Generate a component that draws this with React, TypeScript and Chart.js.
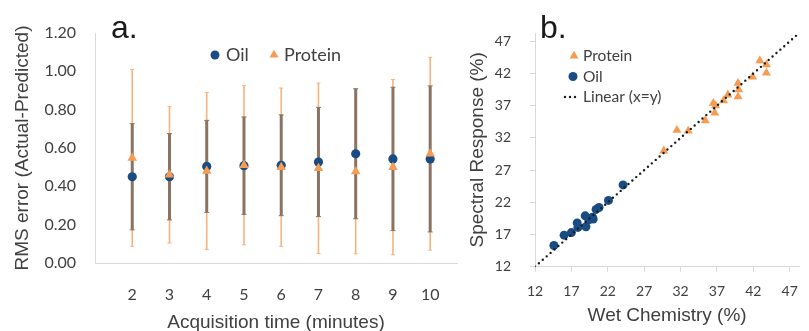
import React, { useEffect, useRef } from 'react';
import { Chart, registerables } from 'chart.js';

Chart.register(...registerables);

// ---- Panel a data ----
const minutes = [2, 3, 4, 5, 6, 7, 8, 9, 10];
const oilRms = [0.45, 0.45, 0.504, 0.508, 0.51, 0.527, 0.57, 0.543, 0.543];
const oilErr = [0.277, 0.225, 0.24, 0.254, 0.263, 0.285, 0.339, 0.374, 0.381];
const proteinRms = [0.548, 0.46, 0.48, 0.51, 0.5, 0.494, 0.478, 0.5, 0.57];
const proteinErr = [0.461, 0.356, 0.41, 0.415, 0.413, 0.445, 0.43, 0.457, 0.503];
const rmsTicks = [0, 0.2, 0.4, 0.6, 0.8, 1.0, 1.2];

// ---- Panel b data ----
const oilWet = [14.6, 16.0, 17.0, 17.8, 17.9, 18.9, 19.0, 19.4, 19.9, 20.0, 20.4, 20.8, 22.1, 24.1];
const oilSpectral = [15.3, 16.9, 17.3, 18.8, 18.1, 19.9, 18.2, 19.3, 19.7, 19.4, 20.9, 21.2, 22.3, 24.7];
const proteinWet = [29.7, 31.5, 33.05, 35.4, 36.5, 36.8, 36.7, 37.9, 38.5, 39.9, 40.0, 39.9, 41.9, 42.9, 43.8, 43.8];
const proteinSpectral = [30.0, 33.2, 33.1, 34.7, 37.4, 37.0, 35.9, 37.8, 38.7, 40.5, 39.5, 38.4, 41.5, 44.0, 43.4, 42.1];
const percentTicks = [12, 17, 22, 27, 32, 37, 42, 47];
const identityEnds = [12, 48.3];

const OIL_BLUE = '#1a4c84';
const PROTEIN_ORANGE = '#f59b52';
const OIL_BAR = '#8b7363';
const PROTEIN_BAR = '#f7b37c';
const TEXT = '#404040';
const AXIS = '#d9d9d9';
const TICK_FONT = 'Lato, "Open Sans", sans-serif';
const TITLE_FONT = '"Liberation Sans", Arial, sans-serif';

function drawTriangle(ctx: CanvasRenderingContext2D, x: number, y: number, r: number) {
  ctx.beginPath();
  for (let k = 0; k < 3; k++) {
    const a = -Math.PI / 2 + (k * 2 * Math.PI) / 3;
    const px = x + r * Math.cos(a);
    const py = y + r * Math.sin(a);
    if (k === 0) ctx.moveTo(px, py);
    else ctx.lineTo(px, py);
  }
  ctx.closePath();
  ctx.fill();
}

function drawCircle(ctx: CanvasRenderingContext2D, x: number, y: number, r: number) {
  ctx.beginPath();
  ctx.arc(x, y, r, 0, Math.PI * 2);
  ctx.fill();
}

type LegendItem = { label: string; kind: 'circle' | 'triangle' | 'dots'; color: string; mx: number; tx: number; y: number };

function legendPlugin(items: LegendItem[], fontSize: number) {
  return {
    id: 'insideLegend',
    afterDraw(chart: any) {
      const ctx: CanvasRenderingContext2D = chart.ctx;
      ctx.save();
      ctx.font = `${fontSize}px ${TICK_FONT}`;
      ctx.textBaseline = 'middle';
      ctx.textAlign = 'left';
      items.forEach((it) => {
        ctx.fillStyle = it.color;
        ctx.strokeStyle = it.color;
        if (it.kind === 'circle') drawCircle(ctx, it.mx, it.y, 4.5);
        else if (it.kind === 'triangle') drawTriangle(ctx, it.mx, it.y, 5.2);
        else {
          ctx.lineWidth = 2.4;
          ctx.lineCap = 'round';
          ctx.setLineDash([0, 5]);
          ctx.beginPath();
          ctx.moveTo(it.mx - 7, it.y);
          ctx.lineTo(it.mx + 5, it.y);
          ctx.stroke();
          ctx.setLineDash([]);
        }
        ctx.fillStyle = TEXT;
        ctx.fillText(it.label, it.tx, it.y);
      });
      ctx.restore();
    },
  };
}

type BarSet = { xs: number[]; values: number[]; errs: number[]; color: string; width: number; cap: number };

function errorBarPlugin(sets: BarSet[]) {
  return {
    id: 'errorBars',
    beforeDatasetsDraw(chart: any) {
      const ctx: CanvasRenderingContext2D = chart.ctx;
      const xs = chart.scales.x;
      const ys = chart.scales.y;
      sets.forEach((s) => {
        ctx.save();
        ctx.strokeStyle = s.color;
        ctx.lineWidth = s.width;
        s.values.forEach((v, i) => {
          const px = xs.getPixelForValue(s.xs[i]);
          const top = ys.getPixelForValue(v + s.errs[i]);
          const bot = ys.getPixelForValue(v - s.errs[i]);
          ctx.beginPath();
          ctx.moveTo(px, top);
          ctx.lineTo(px, bot);
          ctx.stroke();
          ctx.lineWidth = 1;
          ctx.beginPath();
          ctx.moveTo(px - s.cap, top);
          ctx.lineTo(px + s.cap, top);
          ctx.moveTo(px - s.cap, bot);
          ctx.lineTo(px + s.cap, bot);
          ctx.stroke();
          ctx.lineWidth = s.width;
        });
        ctx.restore();
      });
    },
  };
}

function PanelA() {
  const ref = useRef<HTMLCanvasElement>(null);
  useEffect(() => {
    const chart = new Chart(ref.current!, {
      type: 'scatter',
      data: {
        datasets: [
          {
            label: 'Protein',
            data: minutes.map((m, i) => ({ x: m, y: proteinRms[i] })),
            pointStyle: 'triangle',
            pointRadius: 5.5,
            backgroundColor: PROTEIN_ORANGE,
            borderColor: PROTEIN_ORANGE,
            borderWidth: 0,
            order: 0,
          },
          {
            label: 'Oil',
            data: minutes.map((m, i) => ({ x: m, y: oilRms[i] })),
            pointStyle: 'circle',
            pointRadius: 4.6,
            backgroundColor: OIL_BLUE,
            borderColor: OIL_BLUE,
            borderWidth: 0,
            order: 1,
          },
        ],
      },
      options: {
        animation: false,
        responsive: false,
        devicePixelRatio: 1,
        layout: { padding: { top: 33, right: 13, left: 0, bottom: 0 } },
        plugins: { legend: { display: false }, tooltip: { enabled: false } },
        scales: {
          x: {
            type: 'linear',
            min: 1,
            max: 10.72,
            afterBuildTicks: (s: any) => {
              s.ticks = minutes.map((v) => ({ value: v }));
            },
            afterFit: (s: any) => {
              s.height = 68;
            },
            grid: { display: false, drawTicks: false },
            border: { display: true, color: AXIS, width: 1 },
            ticks: { font: { family: TICK_FONT, size: 16 }, color: TEXT, padding: 22, maxRotation: 0, autoSkip: false },
            title: {
              display: true,
              text: 'Acquisition time (minutes)',
              font: { family: TITLE_FONT, size: 19 },
              color: TEXT,
              padding: { top: 0, bottom: -3 },
            },
          },
          y: {
            type: 'linear',
            min: 0,
            max: 1.2,
            afterBuildTicks: (s: any) => {
              s.ticks = rmsTicks.map((v) => ({ value: v }));
            },
            afterFit: (s: any) => {
              s.width = 95;
            },
            grid: { display: false, drawTicks: false },
            border: { display: true, color: AXIS, width: 1 },
            ticks: {
              font: { family: TICK_FONT, size: 16 },
              color: TEXT,
              padding: 19,
              callback: (v: any) => Number(v).toFixed(2),
            },
            title: {
              display: true,
              text: 'RMS error (Actual-Predicted)',
              font: { family: TITLE_FONT, size: 19 },
              color: TEXT,
              padding: { top: 11, bottom: 0 },
            },
          },
        },
      },
      plugins: [
        errorBarPlugin([
          { xs: minutes, values: proteinRms, errs: proteinErr, color: PROTEIN_BAR, width: 1.6, cap: 2 },
          { xs: minutes, values: oilRms, errs: oilErr, color: OIL_BAR, width: 3, cap: 2.5 },
        ]),
        legendPlugin(
          [
            { label: 'Oil', kind: 'circle', color: OIL_BLUE, mx: 215, tx: 226, y: 55 },
            { label: 'Protein', kind: 'triangle', color: PROTEIN_ORANGE, mx: 274, tx: 284, y: 55 },
          ],
          18
        ),
      ],
    } as any);
    return () => chart.destroy();
  }, []);
  return <canvas ref={ref} width={470} height={331} style={{ position: 'absolute', left: 0, top: 0 }} />;
}

function PanelB() {
  const ref = useRef<HTMLCanvasElement>(null);
  useEffect(() => {
    const chart = new Chart(ref.current!, {
      type: 'scatter',
      data: {
        datasets: [
          {
            type: 'line',
            label: 'Linear (x=y)',
            data: identityEnds.map((v) => ({ x: v, y: v })),
            borderColor: '#1a1a1a',
            borderWidth: 2.4,
            borderDash: [0, 5.2],
            borderCapStyle: 'round',
            pointRadius: 0,
            fill: false,
            order: 0,
          },
          {
            label: 'Protein',
            data: proteinWet.map((w, i) => ({ x: w, y: proteinSpectral[i] })),
            pointStyle: 'triangle',
            pointRadius: 5.2,
            backgroundColor: PROTEIN_ORANGE,
            borderWidth: 0,
            order: 1,
          },
          {
            label: 'Oil',
            data: oilWet.map((w, i) => ({ x: w, y: oilSpectral[i] })),
            pointStyle: 'circle',
            pointRadius: 4.5,
            backgroundColor: OIL_BLUE,
            borderWidth: 0,
            order: 2,
          },
        ],
      },
      options: {
        animation: false,
        responsive: false,
        devicePixelRatio: 1,
        layout: { padding: { top: 33, right: 1, left: 0, bottom: 0 } },
        plugins: { legend: { display: false }, tooltip: { enabled: false } },
        scales: {
          x: {
            type: 'linear',
            min: 12,
            max: 48.3,
            afterBuildTicks: (s: any) => {
              s.ticks = percentTicks.map((v) => ({ value: v }));
            },
            afterFit: (s: any) => {
              s.height = 64.3;
            },
            grid: { drawOnChartArea: false, drawTicks: true, tickLength: 5, color: AXIS },
            border: { display: true, color: AXIS, width: 1 },
            ticks: { font: { family: TICK_FONT, size: 14 }, color: TEXT, padding: 11, maxRotation: 0, autoSkip: false },
            title: {
              display: true,
              text: 'Wet Chemistry (%)',
              font: { family: TITLE_FONT, size: 19 },
              color: TEXT,
              padding: { top: 0, bottom: 3.6 },
            },
          },
          y: {
            type: 'linear',
            min: 12,
            max: 48.3,
            afterBuildTicks: (s: any) => {
              s.ticks = percentTicks.map((v) => ({ value: v }));
            },
            afterFit: (s: any) => {
              s.width = 75;
            },
            grid: { drawOnChartArea: false, drawTicks: true, tickLength: 5, color: AXIS },
            border: { display: true, color: AXIS, width: 1 },
            ticks: { font: { family: TICK_FONT, size: 14 }, color: TEXT, padding: 19 },
            title: {
              display: true,
              text: 'Spectral Response (%)',
              font: { family: TITLE_FONT, size: 19 },
              color: TEXT,
              padding: { top: 6, bottom: 0 },
            },
          },
        },
      },
      plugins: [
        legendPlugin(
          [
            { label: 'Protein', kind: 'triangle', color: PROTEIN_ORANGE, mx: 114, tx: 123, y: 56 },
            { label: 'Oil', kind: 'circle', color: OIL_BLUE, mx: 113, tx: 123, y: 76.5 },
            { label: 'Linear (x=y)', kind: 'dots', color: '#1a1a1a', mx: 112, tx: 123, y: 97 },
          ],
          15.5
        ),
      ],
    } as any);
    return () => chart.destroy();
  }, []);
  return <canvas ref={ref} width={349} height={331} style={{ position: 'absolute', left: 460, top: 0 }} />;
}

const letterStyle: React.CSSProperties = {
  position: 'absolute',
  fontFamily: TITLE_FONT,
  fontSize: 32,
  lineHeight: '32px',
  color: '#1a1a1a',
};

export default function App() {
  return (
    <div
      style={{
        position: 'fixed',
        left: 0,
        top: 0,
        width: 809,
        height: 331,
        overflow: 'hidden',
        background: '#ffffff',
      }}
    >
      <PanelA />
      <PanelB />
      <div style={{ ...letterStyle, left: 111, top: 11 }}>a.</div>
      <div style={{ ...letterStyle, left: 540, top: 11 }}>b.</div>
    </div>
  );
}
